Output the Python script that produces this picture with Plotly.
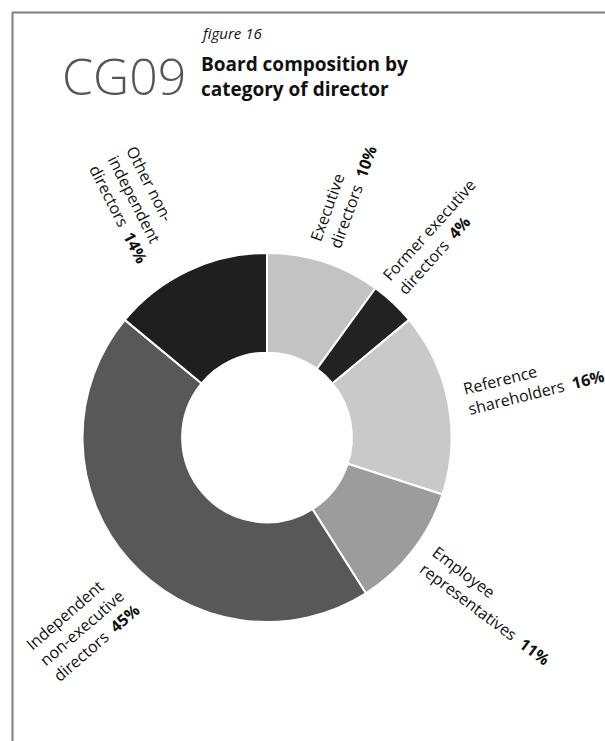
import plotly.graph_objects as go

W, H = 605, 741

# Board composition by category of director (share of seats, %)
categories = [
    "Executive<br>directors",
    "Former executive<br>directors",
    "Reference<br>shareholders",
    "Employee<br>representatives",
    "Independent<br>non-executive<br>directors",
    "Other non-<br>independent<br>directors",
]
shares = [10, 4, 16, 11, 45, 14]
slice_colors = ["#c3c3c3", "#222222", "#c9c9c9", "#9c9c9c", "#585858", "#1f1f1f"]

# Label placement (pixel centre and rotation) for each category
label_x = [343, 436, 533, 491, 83, 137]
label_y = [193, 237, 382, 605, 627, 205]
label_angle = [-70, -48, -14, 37, -41, 63]

# Heading lines
heading_code = "CG09"
heading_figure = "figure 16"
heading_title = ["Board composition by", "category of director"]

# Ring geometry in pixels
cx, cy, r = 267, 437.5, 184.5

fig = go.Figure(
    go.Pie(
        labels=[c.replace("<br>", " ") for c in categories],
        values=shares,
        sort=False,
        direction="clockwise",
        rotation=0,
        hole=0.46,
        textinfo="none",
        hoverinfo="label+percent",
        marker=dict(colors=slice_colors, line=dict(color="white", width=2)),
        domain=dict(
            x=[(cx - r) / W, (cx + r) / W],
            y=[(H - cy - r) / H, (H - cy + r) / H],
        ),
        showlegend=False,
    )
)

annotations = []
for name, v, x, y, a in zip(categories, shares, label_x, label_y, label_angle):
    annotations.append(
        dict(
            text=f"{name}&nbsp;&nbsp;<b>{v}%</b>",
            x=x / W, y=1 - y / H, xref="paper", yref="paper",
            xanchor="center", yanchor="middle",
            textangle=a, align="left", showarrow=False,
            font=dict(family="Open Sans", size=16, color="#111111"),
        )
    )

# Heading block
annotations += [
    dict(text=heading_code, x=60 / W, y=1 - 76 / H, xref="paper", yref="paper",
         xanchor="left", yanchor="middle", showarrow=False,
         font=dict(family="Open Sans", size=50, color="#555555", weight=300)),
    dict(text=f"<i>{heading_figure}</i>", x=199 / W, y=1 - 33 / H, xref="paper", yref="paper",
         xanchor="left", yanchor="middle", showarrow=False,
         font=dict(family="Open Sans", size=15, color="#111111")),
    dict(text="<b>" + "<br>".join(heading_title) + "</b>",
         x=199 / W, y=1 - 77 / H, xref="paper", yref="paper",
         xanchor="left", yanchor="middle", align="left", showarrow=False,
         font=dict(family="Open Sans", size=19, color="#111111")),
]

# Frame lines along the top and left edges
shapes = [
    dict(type="line", xref="paper", yref="paper",
         x0=12 / W, x1=1, y0=1 - 12.5 / H, y1=1 - 12.5 / H,
         line=dict(color="#7f7f7f", width=2)),
    dict(type="line", xref="paper", yref="paper",
         x0=12.5 / W, x1=12.5 / W, y0=0, y1=1 - 12 / H,
         line=dict(color="#7f7f7f", width=2)),
]

fig.update_layout(
    width=W, height=H,
    margin=dict(l=0, r=0, t=0, b=0),
    paper_bgcolor="white", plot_bgcolor="white",
    annotations=annotations, shapes=shapes,
)

fig.write_html("out.html")
